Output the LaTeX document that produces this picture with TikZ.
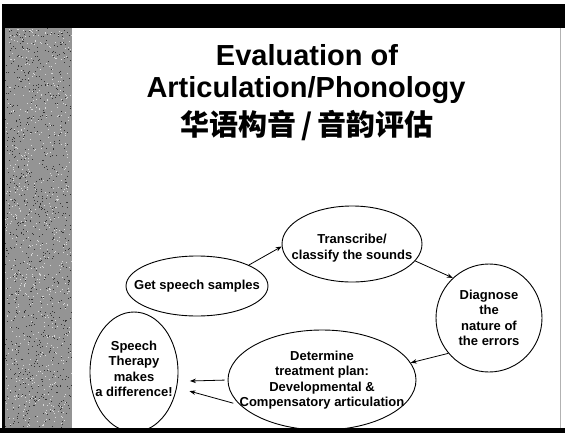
\documentclass[tikz,border=0pt]{standalone}
\usepackage{fontspec}
\setmainfont{Liberation Sans}
\newfontfamily\cjk{Noto Sans CJK SC}
\usetikzlibrary{shapes.geometric,arrows.meta}
\begin{document}
\begin{tikzpicture}[x=1pt,y=-1pt,
  bubble/.style n args={2}{draw,line width=0.9pt,ellipse,inner sep=0pt,
    minimum width=#1pt,minimum height=#2pt},
  txt/.style={align=center,inner sep=0pt,font=\fontsize{13}{15.5}\selectfont\bfseries},
  arr/.style={line width=0.8pt,-{Stealth[length=6pt,width=4.5pt]}},
  titletext/.style={font=\fontsize{29}{34}\selectfont\bfseries}]
\useasboundingbox (0,0) rectangle (565,437);
\fill[white] (0,0) rectangle (565,437);
% frame with textured left strip
\fill[black!42] (5,28) rectangle (72,430);
\pgfmathsetseed{7}
\foreach \i in {1,...,900}{
  \fill[black!80] ({5+66*rnd},{28+401*rnd}) rectangle ++(1,1);
}
\foreach \i in {1,...,700}{
  \fill[white!85!black] ({5+66*rnd},{28+401*rnd}) rectangle ++(1,1);
}
\fill[black] (3,4) rectangle (565,28);
\fill[black] (2,4) rectangle (5,432);
\fill[black] (0,428) rectangle (565,433);
\draw[gray!60,line width=0.6pt] (560,28) -- (560,428);
% title
\node[titletext] (t1) at (307,55) {Evaluation of};
\node[titletext] (t2) at (306,90) {Articulation/Phonology};
\node[font=\fontsize{29}{34}\selectfont\cjk\bfseries] (t3) at (307,126) {华语构音\kern5pt/\kern5pt音韵评估};
% bubbles
\node[bubble={142}{60},label={[txt]center:Get speech samples}] (get) at (197,286) {};
\node[bubble={140}{76},label={[txt,yshift=-4pt]center:Transcribe/\\classify the sounds}] (trans) at (352,244) {};
\node[bubble={106}{108},label={[txt]center:Diagnose\\the\\nature of\\the errors}] (diag) at (489,318) {};
\node[bubble={188}{100},label={[txt,yshift=0pt]center:Determine\\treatment plan:\\Developmental \&\\Compensatory articulation}] (det) at (322,380) {};
\node[bubble={88}{120},label={[txt,yshift=3pt]center:Speech\\Therapy\\makes\\a difference!}] (sp) at (134,372) {};
% arrows
\draw[arr] (get.22) -- (trans.182);
\draw[arr] (trans.-15) -- (diag.132);
\draw[arr] (diag.221) -- (det.11);
\draw[arr,shorten <=3pt,shorten >=12pt] (det.180) -- (sp.-12);
\draw[arr,shorten <=7pt,shorten >=13pt] (det.197) -- (sp.-20);
\end{tikzpicture}
\end{document}
